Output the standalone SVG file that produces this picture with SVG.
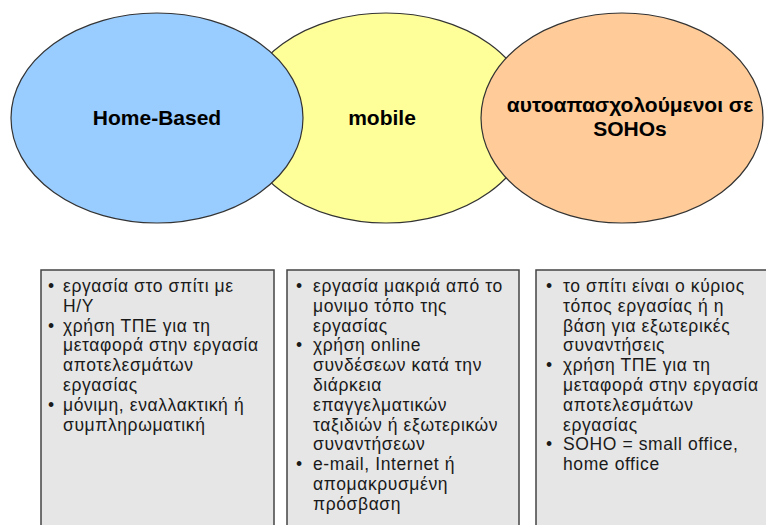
<svg xmlns="http://www.w3.org/2000/svg" width="766" height="525" viewBox="0 0 766 525">
<style>
.ell{stroke:#333;stroke-width:1.2}
.title{font-family:"Liberation Sans",Arial,sans-serif;font-weight:bold;font-size:21px;fill:#000;text-anchor:middle}
.box{fill:#e6e6e6;stroke:#444;stroke-width:1.5}
.txt{font-family:"Liberation Sans",Arial,sans-serif;font-size:17.5px;letter-spacing:0.6px;fill:#1a1a1a}
</style>
<rect width="766" height="525" fill="#fff"/>
<g id="connectors"></g>
<g id="mobile">
<ellipse class="ell" cx="386" cy="118" rx="146" ry="105" fill="#ffff99"/>
<text class="title" x="382" y="125">mobile</text>
</g>
<g id="home-based">
<ellipse class="ell" cx="157" cy="118" rx="146" ry="105" fill="#99ccff"/>
<text class="title" x="157" y="125">Home-Based</text>
</g>
<g id="soho">
<ellipse class="ell" cx="622" cy="118" rx="141" ry="105" fill="#ffcc99"/>
<text class="title" x="630" y="112">αυτοαπασχολούμενοι σε</text>
<text class="title" x="630" y="136">SOHOs</text>
</g>
<g id="box-home">
<rect class="box" x="41" y="270" width="233" height="270"/>
<text class="txt">
<tspan x="48" y="292">•</tspan><tspan x="63" y="292">εργασία στο σπίτι με</tspan>
<tspan x="63" y="311.8">Η/Υ</tspan>
<tspan x="48" y="331.6">•</tspan><tspan x="63" y="331.6">χρήση ΤΠΕ για τη</tspan>
<tspan x="63" y="351.4">μεταφορά στην εργασία</tspan>
<tspan x="63" y="371.2">αποτελεσμάτων</tspan>
<tspan x="63" y="391">εργασίας</tspan>
<tspan x="48" y="410.8">•</tspan><tspan x="63" y="410.8">μόνιμη, εναλλακτική ή</tspan>
<tspan x="63" y="430.6">συμπληρωματική</tspan>
</text>
</g>
<g id="box-mobile">
<rect class="box" x="287" y="270" width="232" height="270"/>
<text class="txt">
<tspan x="296" y="292">•</tspan><tspan x="313" y="292">εργασία μακριά από το</tspan>
<tspan x="313" y="311.8">μονιμο τόπο της</tspan>
<tspan x="313" y="331.6">εργασίας</tspan>
<tspan x="296" y="351.4">•</tspan><tspan x="313" y="351.4">χρήση online</tspan>
<tspan x="313" y="371.2">συνδέσεων κατά την</tspan>
<tspan x="313" y="391">διάρκεια</tspan>
<tspan x="313" y="410.8">επαγγελματικών</tspan>
<tspan x="313" y="430.6">ταξιδιών ή εξωτερικών</tspan>
<tspan x="313" y="450.4">συναντήσεων</tspan>
<tspan x="296" y="470.2">•</tspan><tspan x="313" y="470.2">e-mail, Internet ή</tspan>
<tspan x="313" y="490">απομακρυσμένη</tspan>
<tspan x="313" y="509.8">πρόσβαση</tspan>
</text>
</g>
<g id="box-soho">
<rect class="box" x="536" y="270" width="240" height="270"/>
<text class="txt">
<tspan x="546" y="292">•</tspan><tspan x="563" y="292">το σπίτι είναι ο κύριος</tspan>
<tspan x="563" y="311.8">τόπος εργασίας ή η</tspan>
<tspan x="563" y="331.6">βάση για εξωτερικές</tspan>
<tspan x="563" y="351.4">συναντήσεις</tspan>
<tspan x="546" y="371.2">•</tspan><tspan x="563" y="371.2">χρήση ΤΠΕ για τη</tspan>
<tspan x="563" y="391">μεταφορά στην εργασία</tspan>
<tspan x="563" y="410.8">αποτελεσμάτων</tspan>
<tspan x="563" y="430.6">εργασίας</tspan>
<tspan x="546" y="450.4">•</tspan><tspan x="563" y="450.4">SOHO = small office,</tspan>
<tspan x="563" y="470.2">home office</tspan>
</text>
</g>
</svg>
